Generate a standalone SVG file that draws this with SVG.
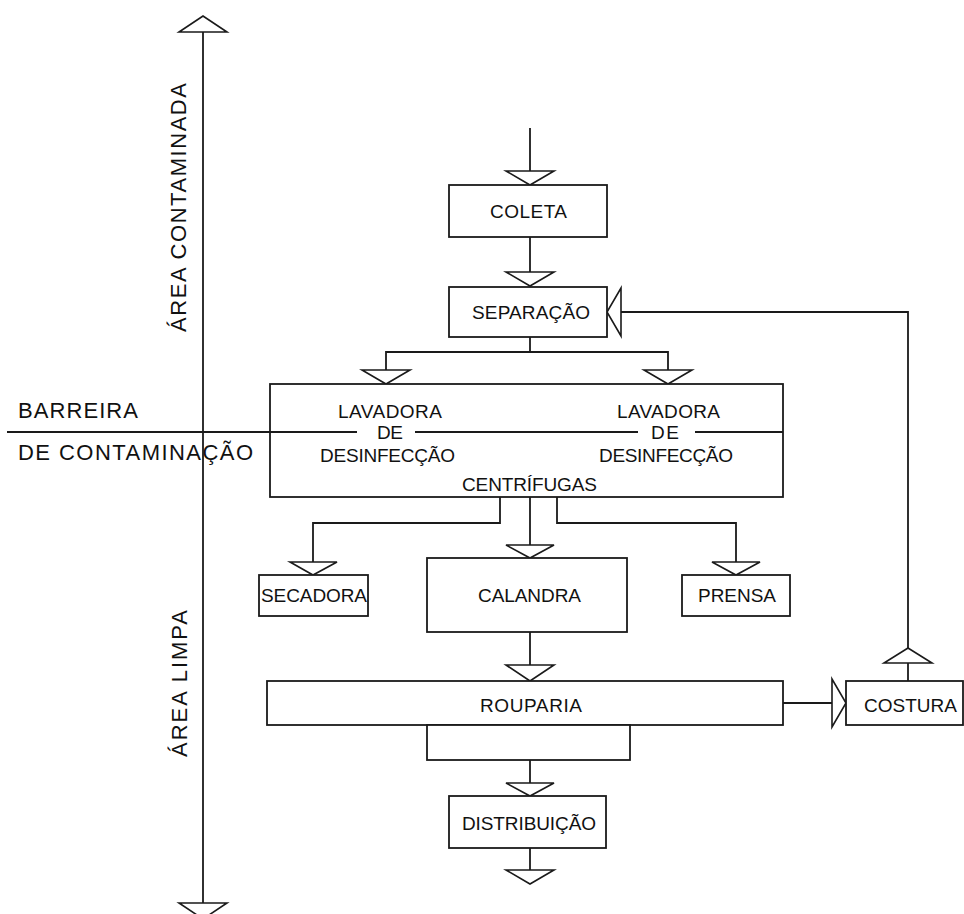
<svg xmlns="http://www.w3.org/2000/svg" width="964" height="914" viewBox="0 0 964 914">
<style>
.ln{fill:none;stroke:#1a1a1a;stroke-width:1.8}
.bx{fill:#fff;stroke:#1a1a1a;stroke-width:1.8}
.ar{fill:#fff;stroke:#1a1a1a;stroke-width:1.6;stroke-linejoin:miter}
text{font-family:"Liberation Sans",Arial,sans-serif;font-size:19px;fill:#111}
text.side{font-size:22px}
</style>
<rect width="964" height="914" fill="#fff"/>

<g id="axis">
<line class="ln" x1="203" y1="32" x2="203" y2="903"/>
<polygon class="ar" points="179,32 227,32 203,16"/>
<polygon class="ar" points="179,903 227,903 203,919"/>
<text class="side" transform="translate(186,332) rotate(-90)" textLength="249" lengthAdjust="spacing">ÁREA CONTAMINADA</text>
<text class="side" transform="translate(187,757) rotate(-90)" textLength="147" lengthAdjust="spacing">ÁREA LIMPA</text>
</g>

<g id="barreira">
<text class="side" x="18" y="418" textLength="120" lengthAdjust="spacing">BARREIRA</text>
<text class="side" x="18" y="460" textLength="235" lengthAdjust="spacing">DE CONTAMINAÇÃO</text>
</g>

<g id="connectors">
<line class="ln" x1="530" y1="128" x2="530" y2="171"/>
<polygon class="ar" points="506,171 554,171 530,185"/>
<line class="ln" x1="530" y1="237" x2="530" y2="272"/>
<polygon class="ar" points="506,272 554,272 530,286"/>
<polyline class="ln" points="530,337 530,352"/>
<polyline class="ln" points="386,370 386,352 668,352 668,370"/>
<polygon class="ar" points="362,370 410,370 386,384"/>
<polygon class="ar" points="644,370 692,370 668,384"/>
<polyline class="ln" points="500,497 500,523 313,523 313,562"/>
<polygon class="ar" points="290,562 337,562 313,575"/>
<line class="ln" x1="530" y1="497" x2="530" y2="545"/>
<polygon class="ar" points="506,545 554,545 530,558"/>
<polyline class="ln" points="557,497 557,523 736,523 736,562"/>
<polygon class="ar" points="712,562 760,562 736,575"/>
<line class="ln" x1="530" y1="632" x2="530" y2="665"/>
<polygon class="ar" points="506,665 554,665 530,681"/>
<line class="ln" x1="530" y1="760" x2="530" y2="783"/>
<polygon class="ar" points="506,783 554,783 530,796"/>
<line class="ln" x1="530" y1="848" x2="530" y2="870"/>
<polygon class="ar" points="506,870 554,870 530,884"/>
<line class="ln" x1="783" y1="703" x2="832" y2="703"/>
<polygon class="ar" points="832,679 832,727 846,703"/>
<line class="ln" x1="908" y1="681" x2="908" y2="663"/>
<polygon class="ar" points="884,663 932,663 908,648"/>
<polyline class="ln" points="908,648 908,312 621,312"/>
<polygon class="ar" points="621,288 621,336 607,312"/>
</g>

<g id="coleta">
<rect class="bx" x="449" y="185" width="158" height="52"/>
<text x="490" y="218" textLength="77" lengthAdjust="spacing">COLETA</text>
</g>

<g id="separacao">
<rect class="bx" x="449" y="287" width="158" height="50"/>
<text x="472" y="319" textLength="118" lengthAdjust="spacing">SEPARAÇÃO</text>
</g>

<g id="lavadoras">
<rect class="bx" x="270" y="384" width="513" height="113"/>
<line class="ln" x1="7" y1="432" x2="357" y2="432"/>
<line class="ln" x1="415" y1="432" x2="638" y2="432"/>
<line class="ln" x1="695" y1="432" x2="783" y2="432"/>
<text x="338" y="418" textLength="104" lengthAdjust="spacing">LAVADORA</text>
<text x="377" y="439" textLength="26" lengthAdjust="spacing">DE</text>
<text x="320" y="462" textLength="135" lengthAdjust="spacing">DESINFECÇÃO</text>
<text x="617" y="418" textLength="103" lengthAdjust="spacing">LAVADORA</text>
<text x="651" y="439" textLength="28" lengthAdjust="spacing">DE</text>
<text x="599" y="462" textLength="134" lengthAdjust="spacing">DESINFECÇÃO</text>
<text x="462" y="491" textLength="135" lengthAdjust="spacing">CENTRÍFUGAS</text>
</g>

<g id="secadora">
<rect class="bx" x="259" y="575" width="109" height="41"/>
<text x="261" y="602" textLength="106" lengthAdjust="spacing">SECADORA</text>
</g>

<g id="calandra">
<rect class="bx" x="427" y="558" width="200" height="74"/>
<text x="478" y="602" textLength="103" lengthAdjust="spacing">CALANDRA</text>
</g>

<g id="prensa">
<rect class="bx" x="682" y="575" width="108" height="41"/>
<text x="698" y="602" textLength="78" lengthAdjust="spacing">PRENSA</text>
</g>

<g id="rouparia">
<rect class="bx" x="267" y="681" width="516" height="44"/>
<rect class="bx" x="427" y="725" width="203" height="35"/>
<text x="480" y="712" textLength="102" lengthAdjust="spacing">ROUPARIA</text>
</g>

<g id="costura">
<rect class="bx" x="846" y="681" width="117" height="44"/>
<text x="864" y="712" textLength="93" lengthAdjust="spacing">COSTURA</text>
</g>

<g id="distribuicao">
<rect class="bx" x="449" y="796" width="157" height="52"/>
<text x="462" y="830" textLength="134" lengthAdjust="spacing">DISTRIBUIÇÃO</text>
</g>
</svg>
